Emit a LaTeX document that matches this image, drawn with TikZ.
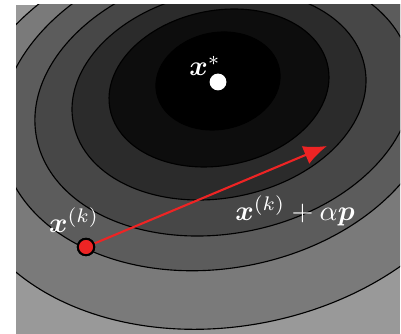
\documentclass[tikz,border=0pt]{standalone}
\usepackage{amsmath,bm}
\usetikzlibrary{arrows.meta}

\definecolor{arrowred}{RGB}{238,36,36}

\begin{document}
\begin{tikzpicture}[
      x=0.125mm, y=0.125mm,
      level/.style={draw=black, line width=0.4pt},
      dot/.style={circle, inner sep=0pt},
      lbl/.style={text=white},
      >={Latex[length=2.9mm,width=2.4mm]}
    ]
    \useasboundingbox (0,0) rectangle (401,334);
    \begin{scope}
      \clip (16,0) rectangle (400,329);
      \fill[black!40] (16,0) rectangle (400,329);
      % level sets, outermost first
      \filldraw[level, fill=black!52, rotate around={11:(227.7,205)}] (227.7,205) ellipse [x radius=273, y radius=197];
      \filldraw[level, fill=black!64, rotate around={11:(220,225)}] (220,225) ellipse [x radius=222, y radius=159];
      \filldraw[level, fill=black!72, rotate around={11:(223.7,232.4)}] (223.7,232.4) ellipse [x radius=190.6, y radius=131.8];
      \filldraw[level, fill=black!83, rotate around={11:(219,239)}] (219,239) ellipse [x radius=148.4, y radius=103];
      \filldraw[level, fill=black!95, rotate around={11:(219,246)}] (219,246) ellipse [x radius=111, y radius=77.5];
      \filldraw[level, fill=black, rotate around={11:(218,253)}] (218,253) ellipse [x radius=62.5, y radius=48.4];
    \end{scope}

    \node[dot, fill=white, minimum size=2.1mm] (xstar) at (218,252) {};
    \node[lbl] (xstarlbl) at (205,268) {$\bm{x}^*$};

    \node[dot, draw=black, line width=0.7pt, fill=arrowred, minimum size=2.05mm] (xk) at (86,87) {};
    \coordinate (step) at (327,188);
    \draw[->, arrowred, line width=0.75pt] (xk) -- (step);
    \node[dot, draw=black, line width=0.7pt, fill=arrowred, minimum size=2.05mm] at (xk) {};

    \node[lbl] (xklbl) at (74,114) {$\bm{x}^{(k)}$};
    \node[lbl] (steplbl) at (295,123) {$\bm{x}^{(k)}+\alpha\bm{p}$};
  \end{tikzpicture}
\end{document}
